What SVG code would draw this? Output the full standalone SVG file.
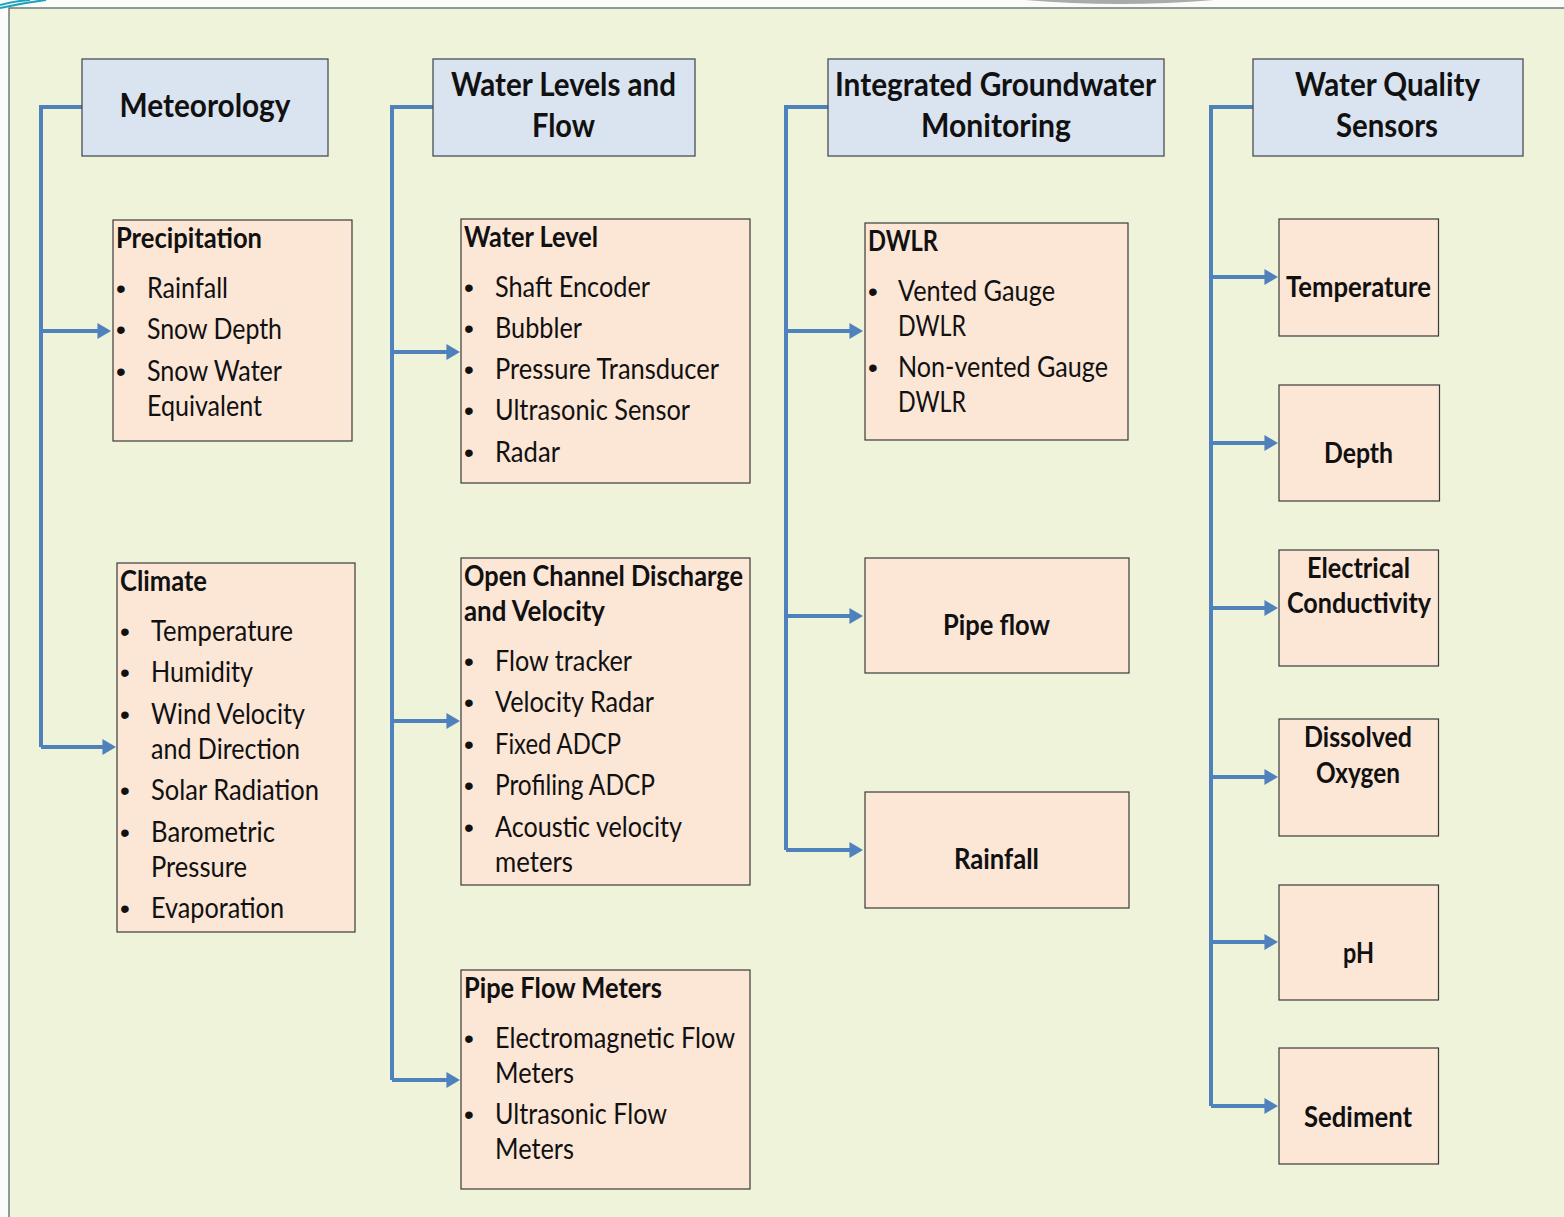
<svg xmlns="http://www.w3.org/2000/svg" width="1564" height="1217" viewBox="0 0 1564 1217">
<style>
text{font-family:"Lato","Carlito","Liberation Sans",sans-serif;fill:#111;font-size:28px}
.h{font-weight:700;font-size:33px;text-anchor:middle}
.b{font-weight:700;font-size:29px}
.c{font-weight:700;font-size:29px;text-anchor:middle}
.d{font-family:"Liberation Sans",Arial,sans-serif}
.hd{fill:#dae3f0;stroke:#4a4f55;stroke-width:1.3}
.bx{fill:#fce6d6;stroke:#3a3a3a;stroke-width:1.2}
.cn{fill:none;stroke:#4f81bd;stroke-width:4}
</style>
<defs>
<marker id="a" viewBox="0 0 10 10" refX="4.1" refY="5" markerWidth="3.4" markerHeight="4" orient="auto" preserveAspectRatio="none"><path d="M0 0L10 5L0 10z" fill="#4f81bd"/></marker>
</defs>
<rect width="1564" height="1217" fill="#fbfcfa"/>
<rect x="9" y="8" width="1570" height="1225" fill="#eff3da" stroke="#4a5a60" stroke-width="1.2"/>
<path d="M0 8Q22 3 46 0M0 5Q14 1 30 0" fill="none" stroke="#1fa3bd" stroke-width="2"/>
<path d="M1025 0Q1120 8 1214 0z" fill="#a9abab"/>
<g id="connectors">
<path class="cn" d="M82 107H41V747"/><path class="cn" d="M41 331H103" marker-end="url(#a)"/><path class="cn" d="M41 747H108" marker-end="url(#a)"/>
<path class="cn" d="M433 107H392V1080"/><path class="cn" d="M392 352H452" marker-end="url(#a)"/><path class="cn" d="M392 721H452" marker-end="url(#a)"/><path class="cn" d="M392 1080H452" marker-end="url(#a)"/>
<path class="cn" d="M828 107H786V850"/><path class="cn" d="M786 331H855" marker-end="url(#a)"/><path class="cn" d="M786 616H855" marker-end="url(#a)"/><path class="cn" d="M786 850H855" marker-end="url(#a)"/>
<path class="cn" d="M1253 107H1211V1106"/><path class="cn" d="M1211 277H1270" marker-end="url(#a)"/><path class="cn" d="M1211 443H1270" marker-end="url(#a)"/><path class="cn" d="M1211 608H1270" marker-end="url(#a)"/><path class="cn" d="M1211 777H1270" marker-end="url(#a)"/><path class="cn" d="M1211 942H1270" marker-end="url(#a)"/><path class="cn" d="M1211 1106H1270" marker-end="url(#a)"/>
</g>
<g id="meteorology"><rect class="hd" x="82" y="59" width="246" height="97"/><text class="h" x="205" y="117" textLength="171" lengthAdjust="spacingAndGlyphs">Meteorology</text></g>
<g id="water-levels"><rect class="hd" x="433" y="59" width="262" height="97"/><text class="h" x="563.500" y="96" textLength="225" lengthAdjust="spacingAndGlyphs">Water Levels and</text><text class="h" x="563.500" y="137" textLength="63" lengthAdjust="spacingAndGlyphs">Flow</text></g>
<g id="groundwater"><rect class="hd" x="828" y="59" width="336" height="97"/><text class="h" x="995.500" y="96" textLength="321" lengthAdjust="spacingAndGlyphs">Integrated Groundwater</text><text class="h" x="996" y="137" textLength="150" lengthAdjust="spacingAndGlyphs">Monitoring</text></g>
<g id="water-quality"><rect class="hd" x="1253" y="59" width="270" height="97"/><text class="h" x="1387.500" y="96" textLength="185" lengthAdjust="spacingAndGlyphs">Water Quality</text><text class="h" x="1387" y="137" textLength="102" lengthAdjust="spacingAndGlyphs">Sensors</text></g>
<g id="precipitation"><rect class="bx" x="113" y="220" width="239" height="221"/>
<text class="b" x="116" y="248" textLength="146" lengthAdjust="spacingAndGlyphs">Precipitation</text>
<text class="d" x="116" y="298">•</text><text x="147" y="298" textLength="81" lengthAdjust="spacingAndGlyphs">Rainfall</text>
<text class="d" x="116" y="339">•</text><text x="147" y="339" textLength="135" lengthAdjust="spacingAndGlyphs">Snow Depth</text>
<text class="d" x="116" y="381">•</text><text x="147" y="381" textLength="135" lengthAdjust="spacingAndGlyphs">Snow Water</text>
<text x="147" y="416" textLength="115" lengthAdjust="spacingAndGlyphs">Equivalent</text></g>
<g id="climate"><rect class="bx" x="117" y="563" width="238" height="369"/>
<text class="b" x="120" y="591" textLength="87" lengthAdjust="spacingAndGlyphs">Climate</text>
<text class="d" x="120" y="641">•</text><text x="151" y="641" textLength="142" lengthAdjust="spacingAndGlyphs">Temperature</text>
<text class="d" x="120" y="682">•</text><text x="151" y="682" textLength="102" lengthAdjust="spacingAndGlyphs">Humidity</text>
<text class="d" x="120" y="724">•</text><text x="151" y="724" textLength="154" lengthAdjust="spacingAndGlyphs">Wind Velocity</text>
<text x="151" y="759" textLength="149" lengthAdjust="spacingAndGlyphs">and Direction</text>
<text class="d" x="120" y="800">•</text><text x="151" y="800" textLength="168" lengthAdjust="spacingAndGlyphs">Solar Radiation</text>
<text class="d" x="120" y="842">•</text><text x="151" y="842" textLength="124" lengthAdjust="spacingAndGlyphs">Barometric</text>
<text x="151" y="877" textLength="96" lengthAdjust="spacingAndGlyphs">Pressure</text>
<text class="d" x="120" y="918">•</text><text x="151" y="918" textLength="133" lengthAdjust="spacingAndGlyphs">Evaporation</text></g>
<g id="water-level"><rect class="bx" x="461" y="219" width="289" height="264"/>
<text class="b" x="464" y="247" textLength="134" lengthAdjust="spacingAndGlyphs">Water Level</text>
<text class="d" x="464" y="297">•</text><text x="495" y="297" textLength="155" lengthAdjust="spacingAndGlyphs">Shaft Encoder</text>
<text class="d" x="464" y="338">•</text><text x="495" y="338" textLength="87" lengthAdjust="spacingAndGlyphs">Bubbler</text>
<text class="d" x="464" y="379">•</text><text x="495" y="379" textLength="224" lengthAdjust="spacingAndGlyphs">Pressure Transducer</text>
<text class="d" x="464" y="420">•</text><text x="495" y="420" textLength="195" lengthAdjust="spacingAndGlyphs">Ultrasonic Sensor</text>
<text class="d" x="464" y="462">•</text><text x="495" y="462" textLength="65" lengthAdjust="spacingAndGlyphs">Radar</text></g>
<g id="open-channel"><rect class="bx" x="461" y="558" width="289" height="327"/>
<text class="b" x="464" y="586" textLength="279" lengthAdjust="spacingAndGlyphs">Open Channel Discharge</text>
<text class="b" x="464" y="621" textLength="141" lengthAdjust="spacingAndGlyphs">and Velocity</text>
<text class="d" x="464" y="671">•</text><text x="495" y="671" textLength="137" lengthAdjust="spacingAndGlyphs">Flow tracker</text>
<text class="d" x="464" y="712">•</text><text x="495" y="712" textLength="159" lengthAdjust="spacingAndGlyphs">Velocity Radar</text>
<text class="d" x="464" y="754">•</text><text x="495" y="754" textLength="126" lengthAdjust="spacingAndGlyphs">Fixed ADCP</text>
<text class="d" x="464" y="795">•</text><text x="495" y="795" textLength="160" lengthAdjust="spacingAndGlyphs">Profiling ADCP</text>
<text class="d" x="464" y="837">•</text><text x="495" y="837" textLength="187" lengthAdjust="spacingAndGlyphs">Acoustic velocity</text>
<text x="495" y="872" textLength="78" lengthAdjust="spacingAndGlyphs">meters</text></g>
<g id="pipe-flow-meters"><rect class="bx" x="461" y="970" width="289" height="219"/>
<text class="b" x="464" y="998" textLength="198" lengthAdjust="spacingAndGlyphs">Pipe Flow Meters</text>
<text class="d" x="464" y="1048">•</text><text x="495" y="1048" textLength="240" lengthAdjust="spacingAndGlyphs">Electromagnetic Flow</text>
<text x="495" y="1083" textLength="79" lengthAdjust="spacingAndGlyphs">Meters</text>
<text class="d" x="464" y="1124">•</text><text x="495" y="1124" textLength="172" lengthAdjust="spacingAndGlyphs">Ultrasonic Flow</text>
<text x="495" y="1159" textLength="79" lengthAdjust="spacingAndGlyphs">Meters</text></g>
<g id="dwlr"><rect class="bx" x="865" y="223" width="263" height="217"/>
<text class="b" x="868" y="251" textLength="70" lengthAdjust="spacingAndGlyphs">DWLR</text>
<text class="d" x="868" y="301">•</text><text x="898" y="301" textLength="157" lengthAdjust="spacingAndGlyphs">Vented Gauge</text>
<text x="898" y="336" textLength="68" lengthAdjust="spacingAndGlyphs">DWLR</text>
<text class="d" x="868" y="377">•</text><text x="898" y="377" textLength="210" lengthAdjust="spacingAndGlyphs">Non-vented Gauge</text>
<text x="898" y="412" textLength="68" lengthAdjust="spacingAndGlyphs">DWLR</text></g>
<g id="pipe-flow"><rect class="bx" x="865" y="558" width="264" height="115"/><text class="c" x="996.500" y="635" textLength="107" lengthAdjust="spacingAndGlyphs">Pipe flow</text></g>
<g id="rainfall"><rect class="bx" x="865" y="792" width="264" height="116"/><text class="c" x="996.500" y="869" textLength="85" lengthAdjust="spacingAndGlyphs">Rainfall</text></g>
<g id="temperature"><rect class="bx" x="1279" y="219" width="159.500" height="117"/><text class="c" x="1358.500" y="297" textLength="145" lengthAdjust="spacingAndGlyphs">Temperature</text></g>
<g id="depth"><rect class="bx" x="1279" y="385" width="160.500" height="116"/><text class="c" x="1358.500" y="463" textLength="69" lengthAdjust="spacingAndGlyphs">Depth</text></g>
<g id="conductivity"><rect class="bx" x="1279" y="550" width="159.500" height="116"/><text class="c" x="1358.500" y="578" textLength="103" lengthAdjust="spacingAndGlyphs">Electrical</text><text class="c" x="1359" y="613" textLength="144" lengthAdjust="spacingAndGlyphs">Conductivity</text></g>
<g id="oxygen"><rect class="bx" x="1279" y="719" width="159.500" height="117"/><text class="c" x="1358" y="747" textLength="108" lengthAdjust="spacingAndGlyphs">Dissolved</text><text class="c" x="1358" y="783" textLength="84" lengthAdjust="spacingAndGlyphs">Oxygen</text></g>
<g id="ph"><rect class="bx" x="1279" y="885" width="159.500" height="115"/><text class="c" x="1358.500" y="963" textLength="31" lengthAdjust="spacingAndGlyphs">pH</text></g>
<g id="sediment"><rect class="bx" x="1279" y="1048" width="159.500" height="116"/><text class="c" x="1358" y="1127" textLength="108" lengthAdjust="spacingAndGlyphs">Sediment</text></g>
</svg>
